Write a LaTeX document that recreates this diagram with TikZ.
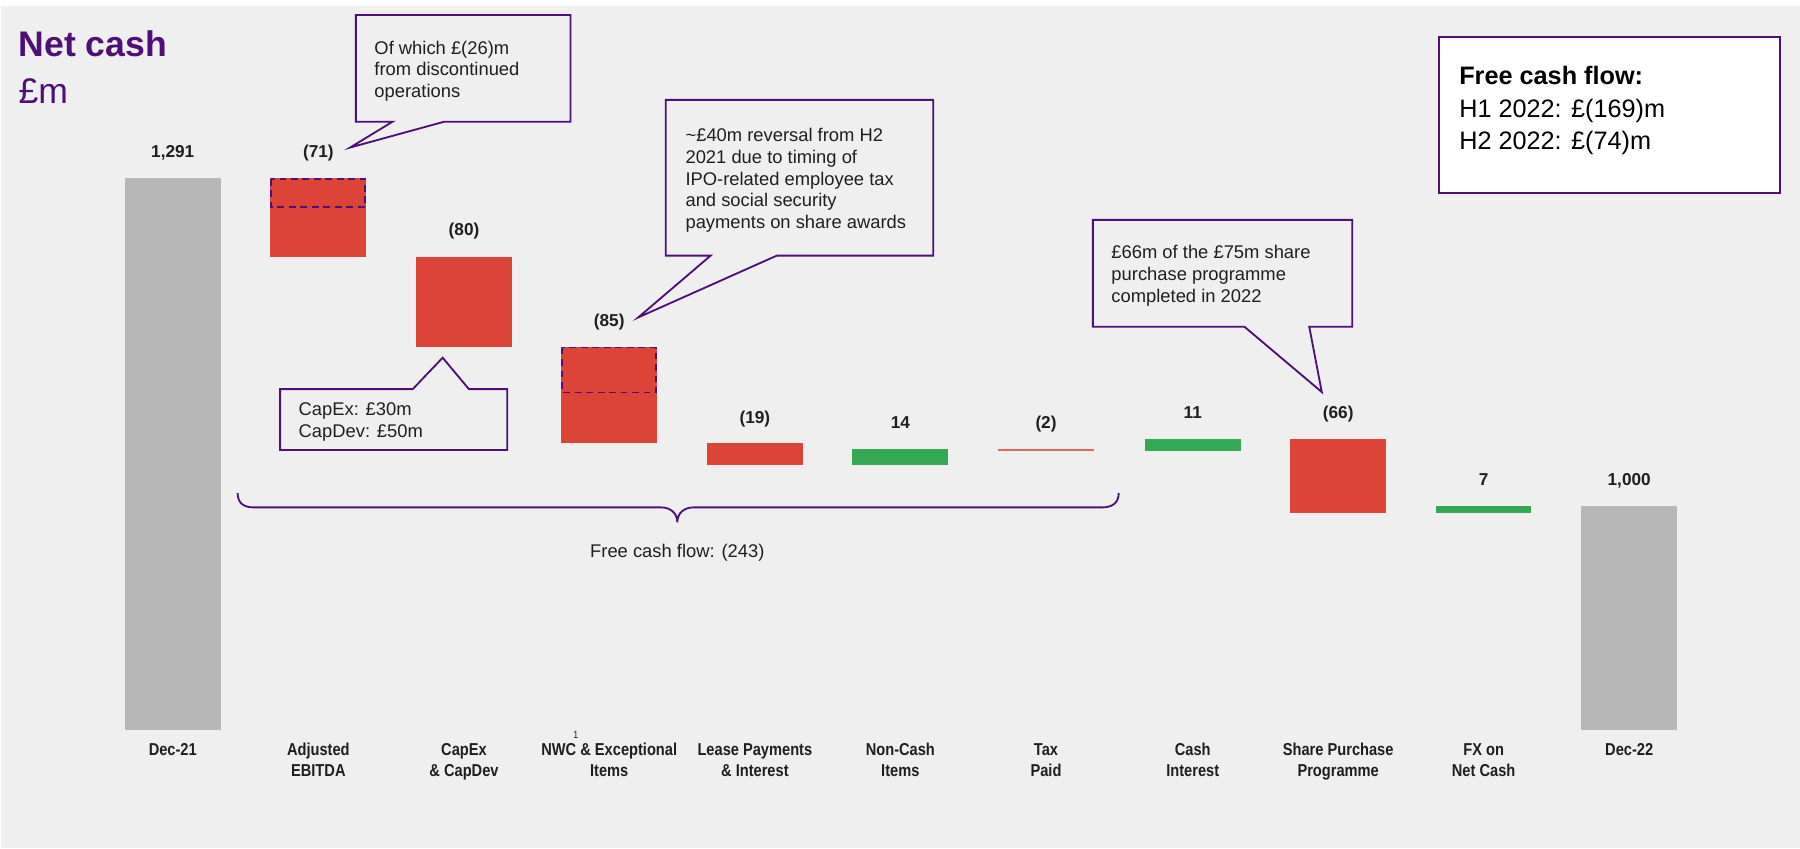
\documentclass[tikz,border=0pt]{standalone}
\usepackage{fontspec}
\setmainfont{Liberation Sans}
\newfontfamily\condfont[FakeStretch=0.85]{Liberation Sans}
\definecolor{bgc}{HTML}{EFEFEF}
\definecolor{redc}{HTML}{DB4437}
\definecolor{greenc}{HTML}{34A853}
\definecolor{greyc}{HTML}{B7B7B7}
\definecolor{taxc}{HTML}{E06666}
\definecolor{purp}{HTML}{4E0F76}
\definecolor{txt}{HTML}{1F1F1F}
\begin{document}
\begin{tikzpicture}[x=1pt,y=-1pt,
  val/.style={font=\bfseries\fontsize{15}{18}\selectfont, text=txt, inner sep=0pt, anchor=base},
  cat/.style={font=\condfont\bfseries\fontsize{15}{18}\selectfont, text=txt, align=center, inner sep=0pt, anchor=base},
  note/.style={font=\fontsize{16}{18.9}\selectfont, text=txt, align=left, inner sep=0pt, anchor=base west},
  callout/.style={draw=purp, line width=1.6pt, line join=miter},
  dashbox/.style={draw=purp, line width=1.5pt, dash pattern=on 6pt off 4pt},
  brace/.style={draw=purp, line width=1.6pt}]
\useasboundingbox (0,0) rectangle (1568,739);
\fill[white] (0,0) rectangle (1568,739);
\fill[bgc] (1,5) rectangle (1568,739);

% title
\node[anchor=base west, inner sep=0pt, text=purp, font=\bfseries\fontsize{31}{36}\selectfont] (title) at (16,49) {Net cash};
\node[anchor=base west, inner sep=0pt, text=purp, font=\fontsize{31}{36}\selectfont] (unit) at (16,90) {£m};

% bars
\fill[greyc] (108.75,155) rectangle (192.25,636);
\fill[redc] (235.5,155) rectangle (319,223.5);
\fill[redc] (362.5,223.5) rectangle (446,302);
\fill[redc] (489,302) rectangle (572.5,386);
\fill[redc] (616,386) rectangle (699.5,405);
\fill[greenc] (742.5,391) rectangle (826,405);
\draw[taxc, line width=1.8pt] (869.5,391.7) -- (953,391.7);
\fill[greenc] (997.25,382.4) rectangle (1080.75,392.6);
\fill[redc] (1124,382.4) rectangle (1207.5,447);
\fill[greenc] (1250.7,441) rectangle (1334,447);
\fill[greyc] (1377.5,441) rectangle (1461,636);

% dashed sub-boxes
\draw[dashbox] (236.3,155.8) rectangle (318.2,180.5);
\draw[dashbox] (489.8,302.8) rectangle (571.7,342);

% value labels
\node[val] (v1) at (150.5,137) {1,291};
\node[val] (v2) at (277.3,137) {(71)};
\node[val] (v3) at (404.2,205) {(80)};
\node[val] (v4) at (530.7,284) {(85)};
\node[val] (v5) at (657.6,368.5) {(19)};
\node[val] (v6) at (784.3,373.5) {14};
\node[val] (v7) at (911.2,373.5) {(2)};
\node[val] (v8) at (1039,364.5) {11};
\node[val] (v9) at (1165.7,364.5) {(66)};
\node[val] (v10) at (1292.4,422.5) {7};
\node[val] (v11) at (1419.2,422.5) {1,000};

% category labels (base = last line)
\node[cat] (c1) at (150.5,658.4) {Dec-21};
\node[cat] (c2) at (277.3,676.4) {Adjusted\\EBITDA};
\node[cat] (c3) at (404.2,676.4) {CapEx\\\& CapDev};
\node[cat] (c4) at (530.7,676.4) {NWC \& Exceptional\\Items};
\node[anchor=base, inner sep=0pt, text=txt, font=\condfont\fontsize{9}{10}\selectfont] (sup) at (501.6,643.5) {1};
\node[cat] (c5) at (657.6,676.4) {Lease Payments\\\& Interest};
\node[cat] (c6) at (784.3,676.4) {Non-Cash\\Items};
\node[cat] (c7) at (911.2,676.4) {Tax\\Paid};
\node[cat] (c8) at (1039,676.4) {Cash\\Interest};
\node[cat] (c9) at (1165.7,676.4) {Share Purchase\\Programme};
\node[cat] (c10) at (1292.4,676.4) {FX on\\Net Cash};
\node[cat] (c11) at (1419.2,658.4) {Dec-22};

% brace
\coordinate (brL) at (207,429.5);
\coordinate (brR) at (974.5,429.5);
\coordinate (brTip) at (590,455);
\draw[brace] (brL) .. controls (207,438) and (212,442) .. (221,442) -- (576,442)
  .. controls (584,442) and (590,447) .. (brTip)
  .. controls (590,447) and (596,442) .. (604,442) -- (960,442)
  .. controls (969,442) and (974.5,438) .. (brR);
\node[note, anchor=base] (fcf) at (590,486) {Free cash flow: (243)};

% callout 1
\coordinate (t1) at (305,128.5);
\draw[callout] (310,13) -- (497,13) -- (497,106) -- (387,106) -- (t1) -- (342,106) -- (310,106) -- cycle;
\node[note] (n1) at (326,85.1) {Of which £(26)m\\from discontinued\\operations};

% callout 2
\coordinate (t2) at (556,276.5);
\draw[callout] (580,87) -- (813,87) -- (813,222.7) -- (676.6,222.7) -- (t2) -- (619,222.7) -- (580,222.7) -- cycle;
\node[note] (n2) at (597,199) {\textasciitilde£40m reversal from H2\\2021 due to timing of\\IPO-related employee tax\\and social security\\payments on share awards};

% callout capex
\coordinate (t3) at (385.6,311.6);
\draw[callout] (244,339) -- (359.5,339) -- (t3) -- (408.5,339) -- (441.8,339) -- (441.8,392) -- (244,392) -- cycle;
\node[note] (n3) at (260,380.9) {CapEx: £30m\\CapDev: £50m};

% callout share purchase
\coordinate (t4) at (1151.4,341.5);
\draw[callout] (952,191.5) -- (1178,191.5) -- (1178,284.6) -- (1140.5,284.6) -- (t4) -- (1084,284.6) -- (952,284.6) -- cycle;
\node[note] (n4) at (968,263.2) {£66m of the £75m share\\purchase programme\\completed in 2022};

% free cash flow box
\draw[callout, fill=white] (1253.5,32) rectangle (1550.6,167.8);
\node[anchor=base west, inner sep=0pt, align=left, text=black, font=\fontsize{22}{28.2}\selectfont] (fcfbox) at (1271,130.4) {\textbf{Free cash flow:}\\H1 2022: £(169)m\\H2 2022: £(74)m};
\end{tikzpicture}
\end{document}
